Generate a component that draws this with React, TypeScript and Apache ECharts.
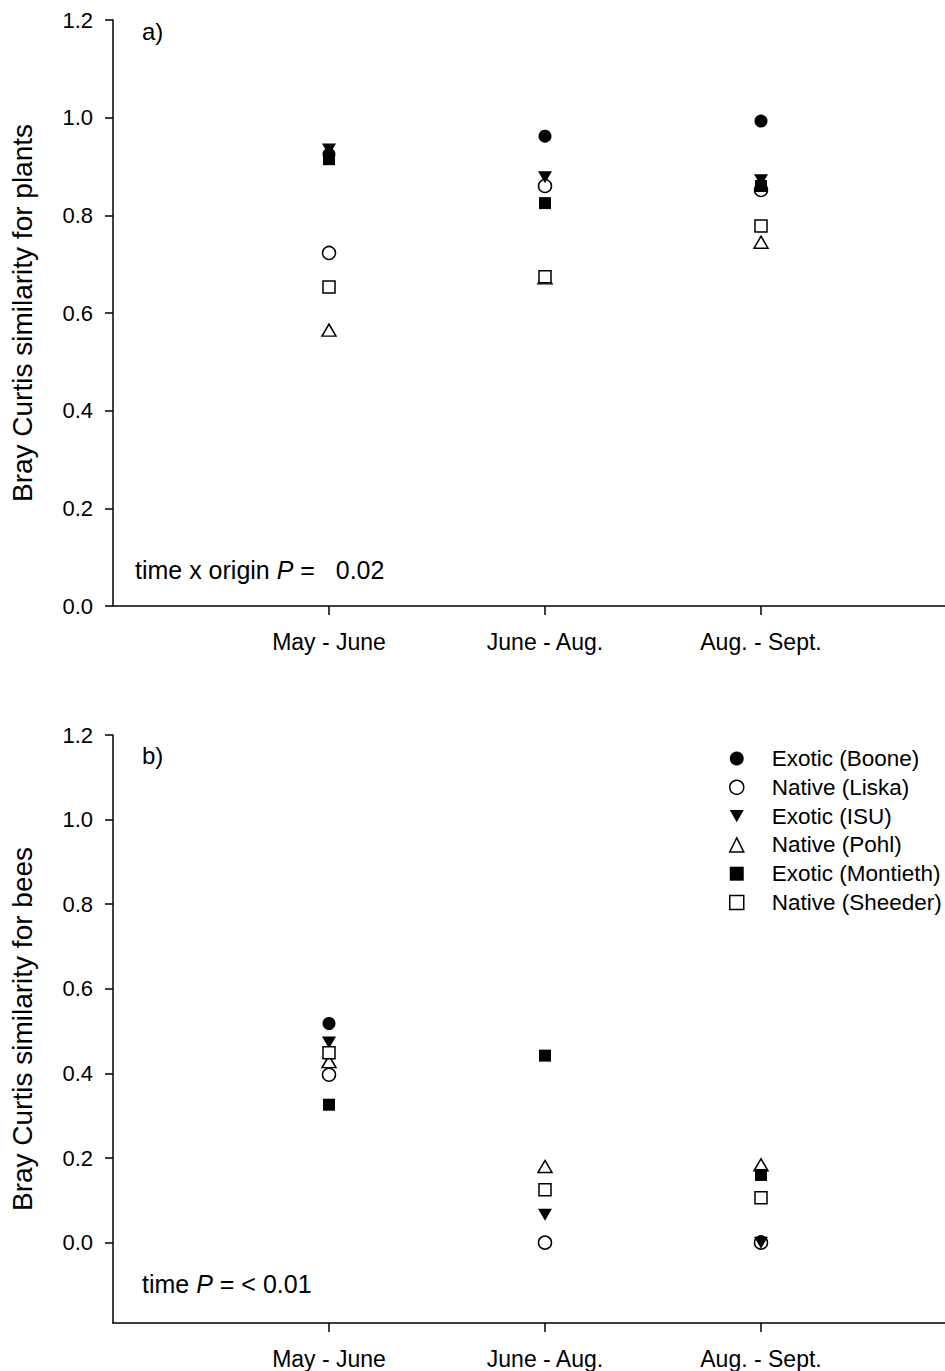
import React, { useEffect, useRef } from "react";
import * as echarts from "echarts";

const categories = ["May - June", "June - Aug.", "Aug. - Sept."];
const yTicks = [0, 0.2, 0.4, 0.6, 0.8, 1.0, 1.2];
const siteNames = [
  "Exotic (Boone)",
  "Native (Liska)",
  "Exotic (ISU)",
  "Native (Pohl)",
  "Exotic (Montieth)",
  "Native (Sheeder)",
];

// Plants (panel a)
const plantBoone = [0.925, 0.962, 0.993];
const plantLiska = [0.723, 0.86, 0.852];
const plantISU = [0.935, 0.878, 0.872];
const plantPohl = [0.565, 0.672, 0.745];
const plantMontieth = [0.915, 0.825, 0.86];
const plantSheeder = [0.653, 0.674, 0.778];

// Bees (panel b)
const beeBoone = [0.518, 0.0, 0.002];
const beeLiska = [0.397, 0.0, 0.0];
const beeISU = [0.473, 0.066, 0.0];
const beePohl = [0.428, 0.18, 0.184];
const beeMontieth = [0.326, 0.442, 0.16];
const beeSheeder = [0.449, 0.125, 0.106];

const FONT = 'Arial, "Liberation Sans", sans-serif';
const DOWN_TRI = "path://M0,0L10,0L5,8.66Z";

const symbolDefs = [
  { symbol: "circle", size: 13, filled: true },
  { symbol: "circle", size: 13, filled: false },
  { symbol: DOWN_TRI, size: [14, 12], filled: true },
  { symbol: "triangle", size: [14, 12], filled: false },
  { symbol: "rect", size: 12, filled: true },
  { symbol: "rect", size: 12, filled: false },
];

const plantData = [plantBoone, plantLiska, plantISU, plantPohl, plantMontieth, plantSheeder];
const beeData = [beeBoone, beeLiska, beeISU, beePohl, beeMontieth, beeSheeder];

function styleFor(filled: boolean) {
  return filled
    ? { color: "#000", borderColor: "#000", borderWidth: 0, opacity: 1 }
    : { color: "#fff", borderColor: "#000", borderWidth: 1.5, opacity: 1 };
}

function makeX(gridIndex: number) {
  return {
    type: "value",
    gridIndex,
    min: 0,
    max: 832 / 216,
    axisLine: { show: true, onZero: false, lineStyle: { color: "#000", width: 1.5 } },
    axisTick: { show: true, customValues: [1, 2, 3], length: 9, lineStyle: { color: "#000", width: 1.5 } },
    axisLabel: {
      customValues: [1, 2, 3],
      formatter: (v: number) => categories[Math.round(v) - 1] ?? "",
      fontSize: 23,
      fontFamily: FONT,
      color: "#000",
      margin: 24,
    },
    splitLine: { show: false },
  };
}

function makeY(gridIndex: number, min: number, name: string) {
  return {
    type: "value",
    gridIndex,
    min,
    max: 1.2,
    name,
    nameLocation: "middle",
    nameGap: 77,
    nameTextStyle: { fontSize: 28, fontFamily: FONT, color: "#000" },
    axisLine: { show: true, onZero: false, lineStyle: { color: "#000", width: 1.5 } },
    axisTick: { show: true, customValues: yTicks, length: 8, lineStyle: { color: "#000", width: 1.5 } },
    axisLabel: {
      customValues: yTicks,
      formatter: (v: number) => v.toFixed(1),
      fontSize: 22,
      fontFamily: FONT,
      color: "#000",
      margin: 20,
    },
    splitLine: { show: false },
  };
}

function buildSeries() {
  const series: any[] = [];
  [plantData, beeData].forEach((panel, p) => {
    panel.forEach((vals, i) => {
      const def = symbolDefs[i];
      series.push({
        type: "scatter",
        name: siteNames[i],
        xAxisIndex: p,
        yAxisIndex: p,
        symbol: def.symbol,
        symbolSize: def.size,
        itemStyle: styleFor(def.filled),
        emphasis: { disabled: true },
        data: vals.map((v, k) => [k + 1, v]),
      });
    });
  });
  return series;
}

export default function App() {
  const ref = useRef<HTMLDivElement>(null);
  useEffect(() => {
    const chart = echarts.init(ref.current!, null, { renderer: "svg" });
    const rich = {
      n: { fontSize: 25, fontFamily: FONT, fill: "#000" },
      i: { fontSize: 25, fontFamily: FONT, fontStyle: "italic", fill: "#000" },
    };
    const option: any = {
      animation: false,
      backgroundColor: "#fff",
      textStyle: { fontFamily: FONT },
      grid: [
        { left: 113, top: 20, width: 832, height: 586 },
        { left: 113, top: 735, width: 832, height: 588 },
      ],
      xAxis: [makeX(0), makeX(1)],
      yAxis: [
        makeY(0, 0, "Bray Curtis similarity for plants"),
        makeY(1, -0.19, "Bray Curtis similarity for bees"),
      ],
      legend: {
        orient: "vertical",
        left: 724,
        top: 742,
        itemWidth: 14,
        itemHeight: 14,
        itemGap: 5.8,
        selectedMode: false,
        textStyle: { fontSize: 22.5, fontFamily: FONT, color: "#000", lineHeight: 23, padding: [0, 0, 0, 23] },
        data: siteNames.map((n, i) => ({
          name: n,
          itemStyle: styleFor(symbolDefs[i].filled),
        })),
      },
      graphic: [
        {
          type: "text",
          x: 142,
          y: 31,
          style: { text: "a)", font: `24px ${FONT}`, fill: "#000", verticalAlign: "middle" },
        },
        {
          type: "text",
          x: 142,
          y: 755,
          style: { text: "b)", font: `24px ${FONT}`, fill: "#000", verticalAlign: "middle" },
        },
        {
          type: "text",
          x: 135,
          y: 570,
          style: {
            text: "{n|time x origin }{i|P}{n| =   0.02}",
            verticalAlign: "middle",
            rich,
          },
        },
        {
          type: "text",
          x: 142,
          y: 1284,
          style: {
            text: "{n|time }{i|P}{n| = < 0.01}",
            verticalAlign: "middle",
            rich,
          },
        },
      ],
      series: buildSeries(),
    };
    chart.setOption(option);
    return () => chart.dispose();
  }, []);
  return (
    <div
      ref={ref}
      style={{ position: "absolute", left: 0, top: 0, width: 945, height: 1371 }}
    />
  );
}
